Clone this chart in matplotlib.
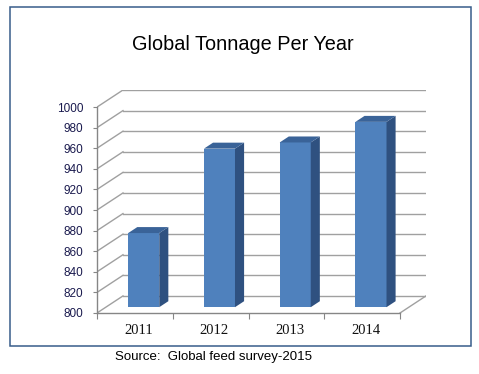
import matplotlib
matplotlib.use("Agg")
from matplotlib import pyplot as plt
from matplotlib.patches import Polygon, Rectangle

years = ["2011", "2012", "2013", "2014"]
tonnage = [872, 954, 960, 980]
y_ticks = list(range(800, 1001, 20))

title = "Global Tonnage Per Year"
source = "Source:  Global feed survey-2015"

# pseudo 3d depth, in data units
DX = 0.343
DY = 16.6
FRONT = 0.34   # depth of the bar's front face
DEPTH = 0.35   # depth of the bar itself
BAR_W = 0.41

front_col = "#4f81bd"
side_col = "#2f5180"
top_col = "#3a6398"
grid_col = "#a0a0a0"

fig = plt.figure(figsize=(4.79, 3.74), dpi=100)
fig.patch.set_facecolor("white")

# chart border
fig.patches.append(Rectangle((10 / 479, 28 / 374), 461 / 479, 339 / 374,
                             transform=fig.transFigure, fill=False,
                             edgecolor="#385d8a", linewidth=1.1))

ax = fig.add_axes([97 / 479, 61 / 374, 329 / 479, 223 / 374])
ymin = y_ticks[0]
ax.set_xlim(0, len(years) + DX)
ax.set_ylim(ymin, y_ticks[-1] + DY)

# walls and floor
for v in y_ticks:
    ax.plot([0, DX], [v, v + DY], color=grid_col, lw=1, zorder=1)
    ax.plot([DX, len(years) + DX], [v + DY, v + DY], color=grid_col, lw=1, zorder=1)
ax.plot([len(years), len(years) + DX], [ymin, ymin + DY], color=grid_col, lw=1, zorder=1)

# bars
for i, v in enumerate(tonnage):
    xl = i + 0.5 - BAR_W / 2 + FRONT * DX
    xr = xl + BAR_W
    b = ymin + FRONT * DY
    t = v + FRONT * DY
    ax.bar(xl, t - b, bottom=b, width=BAR_W, align="edge", color=front_col,
           linewidth=0, zorder=3)
    ax.add_patch(Polygon([(xr, b), (xr, t), (xr + DEPTH * DX, t + DEPTH * DY),
                          (xr + DEPTH * DX, b + DEPTH * DY)],
                         closed=True, facecolor=side_col, linewidth=0, zorder=3))
    ax.add_patch(Polygon([(xl, t), (xr, t), (xr + DEPTH * DX, t + DEPTH * DY),
                          (xl + DEPTH * DX, t + DEPTH * DY)],
                         closed=True, facecolor=top_col, linewidth=0, zorder=3))

for s in ["top", "right"]:
    ax.spines[s].set_visible(False)
for s in ["left", "bottom"]:
    ax.spines[s].set_color("#868686")
    ax.spines[s].set_linewidth(1)
ax.spines["left"].set_bounds(ymin, y_ticks[-1])
ax.spines["bottom"].set_bounds(0, len(years))
ax.patch.set_visible(False)

ax.set_yticks(y_ticks)
ax.set_yticklabels([str(v) for v in y_ticks], family="Liberation Sans",
                   fontsize=8.5, color="#1a1a4e")
ax.tick_params(axis="y", direction="out", length=3, color="#868686", pad=7)

ax.set_xticks(range(len(years) + 1))
ax.set_xticklabels([])
ax.set_xticks([i + 0.55 for i in range(len(years))], minor=True)
ax.set_xticklabels(years, minor=True, family="Liberation Serif", fontsize=10.5,
                   color="#111111")
ax.tick_params(axis="x", which="major", direction="out", length=4, color="#868686")
ax.tick_params(axis="x", which="minor", length=0, pad=8)

fig.text(243 / 479, 1 - 45 / 374, title, ha="center", va="center",
         family="Liberation Sans", fontsize=14.3)
fig.text(115 / 479, 1 - 357 / 374, source, ha="left", va="center",
         family="Liberation Sans", fontsize=9.5)

fig.savefig("out.png", dpi=100)
